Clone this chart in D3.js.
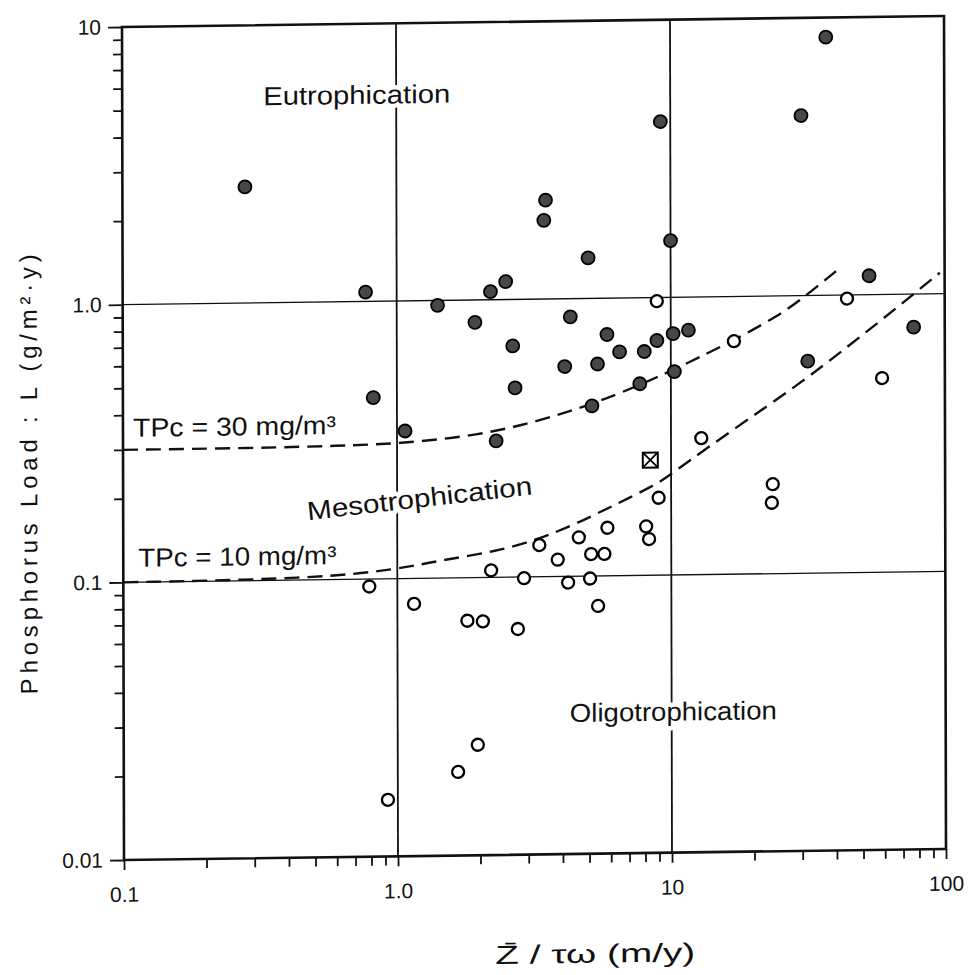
<!DOCTYPE html>
<html>
<head>
<meta charset="utf-8">
<script src="https://cdnjs.cloudflare.com/ajax/libs/d3/7.8.5/d3.min.js"></script>
<style>
  body { margin: 0; background: #fff; }
  text { font-family: "Liberation Sans", Arial, sans-serif; fill: #111; }
  .axis text { font-size: 21px; }
</style>
</head>
<body>
<div id="scatter"></div>
<script>
//  phosphorus load vs. hydraulic load (log-log) with trophic boundary curves

// eutrophic lakes (filled dots)
var eutroX = [0.28, 0.77, 0.82, 1.07, 1.41, 1.93, 2.2, 2.5, 2.3, 2.65,
              2.7, 3.5, 3.45, 4.1, 4.3, 5.0, 5.4, 5.15, 5.85, 6.5,
              8.0, 7.7, 8.9, 9.2, 10.0, 10.2, 10.3, 11.6, 30, 37,
              31.6, 53, 77];
var eutroL = [2.62, 1.08, 0.45, 0.34, 0.96, 0.83, 1.07, 1.16, 0.31, 0.68,
              0.48, 2.27, 1.92, 0.57, 0.86, 1.40, 0.58, 0.41, 0.74, 0.64,
              0.64, 0.49, 0.70, 4.3, 1.6, 0.74, 0.54, 0.76, 4.45, 8.5,
              0.58, 1.17, 0.76];

// oligo / mesotrophic lakes (open circles)
var oligoX = [8.9, 17, 44, 59, 12.9, 23.5, 23.3, 9.0, 8.1, 8.3,
              5.85, 4.6, 3.3, 3.85, 5.1, 5.7, 2.2, 2.9, 4.2, 5.05,
              5.4, 0.79, 1.15, 1.8, 2.05, 2.75, 1.96, 1.66, 0.92];
var oligoL = [0.97, 0.69, 0.97, 0.50, 0.31, 0.21, 0.18, 0.19, 0.15, 0.135,
              0.149, 0.138, 0.13, 0.115, 0.12, 0.12, 0.106, 0.099, 0.095, 0.098,
              0.078, 0.094, 0.081, 0.070, 0.0695, 0.065, 0.025, 0.020, 0.016];

// the single boxed point
var boxX = [8.4];
var boxL = [0.26];

// boundary curves
var tpc30X = [0.1, 0.3, 0.62, 1.0, 2.0, 3.33, 5.15, 7.7, 10.3, 15.5, 25, 31.6, 41];
var tpc30L = [0.30, 0.30, 0.303, 0.306, 0.325, 0.365, 0.415, 0.485, 0.55, 0.664, 0.85, 1.01, 1.24];
var tpc10X = [0.1, 0.5, 1.0, 1.44, 2.32, 3.3, 4.4, 5.65, 7.08, 9.1, 9.9, 17.4, 29.6, 45, 66.8, 96];
var tpc10L = [0.1, 0.101, 0.108, 0.116, 0.124, 0.137, 0.153, 0.172, 0.191, 0.216, 0.23, 0.339, 0.482, 0.66, 0.893, 1.19];

// tick labels
var xTickValues = [0.1, 1, 10, 100];
var xTickLabels = ["0.1", "1.0", "10", "100"];
var yTickValues = [0.01, 0.1, 1, 10];
var yTickLabels = ["0.01", "0.1", "1.0", "10"];

// Define SVG area dimensions
var svgWidth = 979;
var svgHeight = 975;

var chartMargin = { top: 27, left: 122 };
var chartWidth = 822;
var chartHeight = 833;

var svg = d3.select("#scatter")
  .append("svg")
  .attr("width", svgWidth)
  .attr("height", svgHeight);

// the original is a slightly skewed scan, so the plot goes through a small matrix
var chartGroup = svg.append("g")
  .attr("transform", `matrix(1, -0.0134, 0.0024, 1, ${chartMargin.left}, ${chartMargin.top})`);

var xscale = d3.scaleLog().domain([0.1, 100]).range([0, chartWidth]);
var yscale = d3.scaleLog().domain([0.01, 10]).range([chartHeight, 0]);

function isDecade(d) {
  var l = Math.log10(d);
  return Math.abs(l - Math.round(l)) < 1e-6;
}

// decade grid lines (interior only)
chartGroup.selectAll(".vgrid")
  .data([1, 10])
  .enter()
  .append("line")
  .attr("x1", d => xscale(d))
  .attr("x2", d => xscale(d))
  .attr("y1", 0)
  .attr("y2", chartHeight)
  .attr("stroke", "#111")
  .attr("stroke-width", 1.8);

chartGroup.selectAll(".hgrid")
  .data([0.1, 1])
  .enter()
  .append("line")
  .attr("x1", 0)
  .attr("x2", chartWidth)
  .attr("y1", d => yscale(d))
  .attr("y2", d => yscale(d))
  .attr("stroke", "#111")
  .attr("stroke-width", 1.3);

// region labels, with a white halo that breaks the grid lines like the original
var labels = [
  { text: "Eutrophication", x: 0.327, y: 5.15, len: 187, size: 26, angle: 0 },
  { text: "Mesotrophication", x: 0.473, y: 0.164, len: 226, size: 26, angle: -5.8 },
  { text: "Oligotrophication", x: 4.25, y: 0.0299, len: 207, size: 26, angle: 0 },
  { text: "TPc = 30 mg/m³", x: 0.1088, y: 0.334, len: 203, size: 26, angle: 0 },
  { text: "TPc = 10 mg/m³", x: 0.1135, y: 0.1136, len: 198, size: 26, angle: 0 }
];

chartGroup.selectAll(".region")
  .data(labels)
  .enter()
  .append("text")
  .attr("class", "region")
  .attr("transform", d => `translate(${xscale(d.x)}, ${yscale(d.y)}) rotate(${d.angle})`)
  .style("font-size", d => d.size + "px")
  .attr("textLength", d => d.len)
  .attr("lengthAdjust", "spacingAndGlyphs")
  .attr("stroke", "#fff")
  .attr("stroke-width", 9)
  .attr("stroke-linejoin", "round")
  .style("paint-order", "stroke")
  .text(d => d.text);

// dashed boundary curves
var curveLine = d3.line()
  .x(d => xscale(d[0]))
  .y(d => yscale(d[1]))
  .curve(d3.curveBasis);

[[tpc30X, tpc30L], [tpc10X, tpc10L]].forEach(function(c) {
  chartGroup.append("path")
    .datum(c[0].map((x, i) => [x, c[1][i]]))
    .attr("d", curveLine)
    .attr("fill", "none")
    .attr("stroke", "#111")
    .attr("stroke-width", 2.4)
    .attr("stroke-dasharray", "15,8");
});

// open circles
chartGroup.selectAll(".oligo")
  .data(oligoX.map((x, i) => ({ x: x, L: oligoL[i] })))
  .enter()
  .append("circle")
  .attr("cx", d => xscale(d.x))
  .attr("cy", d => yscale(d.L))
  .attr("r", 6)
  .attr("fill", "#fff")
  .attr("stroke", "#000")
  .attr("stroke-width", 2.3);

// filled dots
chartGroup.selectAll(".eutro")
  .data(eutroX.map((x, i) => ({ x: x, L: eutroL[i] })))
  .enter()
  .append("circle")
  .attr("cx", d => xscale(d.x))
  .attr("cy", d => yscale(d.L))
  .attr("r", 6.5)
  .attr("fill", "#474747")
  .attr("stroke", "#000")
  .attr("stroke-width", 1.8);

// boxed cross marker
var boxGroup = chartGroup.selectAll(".box")
  .data(boxX.map((x, i) => ({ x: x, L: boxL[i] })))
  .enter()
  .append("g")
  .attr("transform", d => `translate(${xscale(d.x)}, ${yscale(d.L)})`);

boxGroup.append("rect")
  .attr("x", -7.5).attr("y", -7.5)
  .attr("width", 15).attr("height", 15)
  .attr("fill", "#fff")
  .attr("stroke", "#000")
  .attr("stroke-width", 2);
boxGroup.append("path")
  .attr("d", "M-7.5,-7.5L7.5,7.5M7.5,-7.5L-7.5,7.5")
  .attr("stroke", "#000")
  .attr("stroke-width", 1.8);

// axes: major ticks with labels, minor ticks without
var bottomAxis = d3.axisBottom(xscale)
  .tickValues(xTickValues)
  .tickFormat((d, i) => xTickLabels[i])
  .tickSize(10)
  .tickPadding(17);
var bottomMinor = d3.axisBottom(xscale)
  .tickValues(xscale.ticks().filter(d => !isDecade(d)))
  .tickFormat("")
  .tickSize(9);
var leftAxis = d3.axisLeft(yscale)
  .tickValues(yTickValues)
  .tickFormat((d, i) => yTickLabels[i])
  .tickSize(14)
  .tickPadding(7);
var leftMinor = d3.axisLeft(yscale)
  .tickValues(yscale.ticks().filter(d => !isDecade(d)))
  .tickFormat("")
  .tickSize(9);

var x_axis = chartGroup.append("g")
  .attr("class", "axis")
  .attr("transform", `translate(0, ${chartHeight})`)
  .call(bottomAxis)
  .attr("font-size", 21)
  .attr("font-family", "Liberation Sans, Arial, sans-serif");
chartGroup.append("g")
  .attr("transform", `translate(0, ${chartHeight})`)
  .call(bottomMinor);
var y_axis = chartGroup.append("g")
  .attr("class", "axis")
  .call(leftAxis)
  .attr("font-size", 21)
  .attr("font-family", "Liberation Sans, Arial, sans-serif");
chartGroup.append("g").call(leftMinor);

chartGroup.selectAll(".domain").remove();
chartGroup.selectAll(".tick line")
  .attr("stroke", "#111")
  .attr("stroke-width", 1.8);

// frame
chartGroup.append("rect")
  .attr("width", chartWidth)
  .attr("height", chartHeight)
  .attr("fill", "none")
  .attr("stroke", "#111")
  .attr("stroke-width", 2.6);

// axis titles
chartGroup.append("text")
  .attr("x", 471)
  .attr("y", 942)
  .attr("text-anchor", "middle")
  .style("font-size", "26px")
  .attr("textLength", 200)
  .attr("lengthAdjust", "spacingAndGlyphs")
  .text("Z\u0304 / τω (m/y)");

chartGroup.append("text")
  .attr("transform", "translate(-86, 446) rotate(-90)")
  .attr("text-anchor", "middle")
  .style("font-size", "24px")
  .attr("textLength", 440)
  .attr("lengthAdjust", "spacing")
  .text("Phosphorus Load : L (g/m²·y)");
</script>
</body>
</html>
